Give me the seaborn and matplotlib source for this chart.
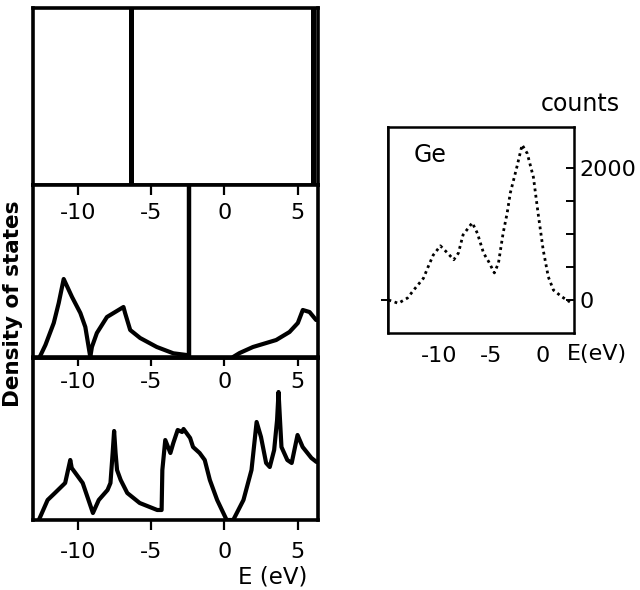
import numpy as np
import pandas as pd
import matplotlib
matplotlib.use("Agg")
import matplotlib.pyplot as plt
import seaborn as sns

# ---------------- data ----------------
# top panel: level positions (eV)
top_levels = [-6.4, 6.05]

# middle panel: valence part
mid_val_E = [-12.64, -12.25, -11.68, -11.34, -11.0, -10.43, -9.86, -9.52, -9.18,
             -9.07, -8.73, -8.04, -6.91, -6.8, -6.45, -5.77, -4.63, -3.5, -2.59]
mid_val_D = [0, 12, 34, 54, 78, 60, 44, 30, 0,
             10, 24, 40, 50, 44, 27, 19, 10, 3.7, 2]
# middle panel: conduction part
mid_con_E = [0.59, 1.04, 1.95, 3.54, 4.45, 5.02, 5.36, 5.82, 6.27]
mid_con_D = [0, 4, 10, 17, 25, 34, 47, 45, 37]
# middle panel: sharp level
mid_level = [-2.43]

# bottom panel
bot_E = [-12.7, -12.1, -11.6, -10.9, -10.55, -10.45, -9.7, -9.0, -8.6, -8.0, -7.8,
         -7.65, -7.55, -7.45, -7.35, -7.1, -6.65, -5.8, -4.6, -4.3, -4.25, -4.05,
         -3.7, -3.5, -3.2, -2.9, -2.8, -2.35, -2.15, -1.7, -1.35, -1.0, -0.5, 0.15,
         0.6, 1.3, 1.85, 2.2, 2.5, 2.85, 3.1, 3.4, 3.6, 3.7, 3.8, 3.9, 4.3, 4.6,
         5.0, 5.35, 5.95, 6.3]
bot_D = [0, 20, 27, 37, 60, 52, 37, 7, 20, 30, 37,
         67, 89, 67, 50, 40, 27, 17, 10, 10, 50, 80,
         67, 77, 90, 88, 91, 82, 73, 67, 60, 40, 20, 0,
         0, 20, 50, 98, 83, 57, 53, 70, 100, 128, 100, 73, 60, 57,
         85, 73, 62, 58]

# right panel: Ge photoemission counts
ge_E = [-14.95, -14.0, -13.1, -12.5, -11.55, -11.1, -10.6, -9.9, -9.2, -8.6, -8.15,
        -7.7, -6.8, -6.3, -5.7, -5.2, -4.65, -4.25, -3.8, -3.4, -3.1, -2.45, -1.95,
        -1.45, -0.85, -0.4, 0.1, 0.6, 1.1, 1.9, 2.7]
ge_counts = [0, -50, 30, 150, 330, 500, 680, 820, 710, 610, 710,
             985, 1170, 1010, 710, 580, 410, 560, 1010, 1320, 1620, 2020, 2350,
             2220, 1860, 1320, 760, 350, 150, 50, -30]

left_ticks = [-10, -5, 0, 5]
left_ticklabels = ["-10", "-5", "0", "5"]
ge_xticks = [-10, -5, 0]
ge_xticklabels = ["-10", "-5", "0"]
ge_yticks = [0, 500, 1000, 1500, 2000]
ge_yticklabels = ["0", "", "", "", "2000"]

# ---------------- style ----------------
sns.set_theme(style="white")
fam = ["DejaVu Sans"]
plt.rcParams["font.family"] = fam
plt.rcParams["axes.edgecolor"] = "black"
plt.rcParams["axes.labelcolor"] = "black"
plt.rcParams["text.color"] = "black"
plt.rcParams["xtick.color"] = "black"
plt.rcParams["ytick.color"] = "black"

fig = plt.figure(figsize=(6.4, 5.9), dpi=100)
W, H = 640.0, 590.0

def axes_px(x0, y0, x1, y1):
    return fig.add_axes([x0 / W, 1 - y1 / H, (x1 - x0) / W, (y1 - y0) / H])

xl = (-13.1, 6.4)
ax_top = axes_px(33, 8, 318, 185)
ax_mid = axes_px(33, 185, 318, 357)
ax_bot = axes_px(33, 358, 318, 520)
ax_ge = axes_px(388, 127, 574, 333)

lw_sp = 2.6
for a in (ax_top, ax_mid, ax_bot):
    a.set_xlim(*xl)
    for s in a.spines.values():
        s.set_linewidth(lw_sp)
        s.set_color("black")
    a.set_yticks([])
    a.set_facecolor("white")

fs = 16
# top panel
ax_top.set_ylim(0, 1)
ax_top.vlines(top_levels, 0, 1, color="black", lw=3.6)
ax_top.set_xticks([])

# middle panel
ax_mid.set_ylim(0, 172)
sns.lineplot(x=mid_val_E, y=mid_val_D, ax=ax_mid, color="black", lw=3.0, sort=False)
sns.lineplot(x=mid_con_E, y=mid_con_D, ax=ax_mid, color="black", lw=3.0, sort=False)
ax_mid.vlines(mid_level, 0, 172, color="black", lw=3.2)
ax_mid.set_xticks(left_ticks)
ax_mid.set_xticklabels(left_ticklabels)
ax_mid.tick_params(axis="x", top=True, labeltop=True, bottom=False, labelbottom=False,
                   direction="in", length=7, width=1.6, pad=-27, labelsize=fs)
ax_mid.set_xlabel("")
ax_mid.set_ylabel("")

# bottom panel
ax_bot.set_ylim(0, 162)
sns.lineplot(x=bot_E, y=bot_D, ax=ax_bot, color="black", lw=3.0, sort=False)
ax_bot.set_xticks(left_ticks)
ax_bot.set_xticklabels(left_ticklabels)
ax_bot.tick_params(axis="x", bottom=True, labelbottom=True, direction="out",
                   length=7, width=1.6, pad=9, labelsize=fs)
sec = ax_bot.secondary_xaxis("top")
sec.set_xticks(left_ticks)
sec.set_xticklabels(left_ticklabels)
sec.tick_params(axis="x", direction="in", length=6, width=1.6, pad=-24.5, labelsize=fs)
sec.spines["top"].set_linewidth(lw_sp)
ax_bot.set_ylabel("")
ax_bot.set_xlabel("E (eV)", fontsize=16.5)
ax_bot.xaxis.set_label_coords((273 - 33) / 285, (520 - 566) / 162)

fig.text(13 / W, 1 - 304 / H, "Density of states", rotation=90, ha="center",
         va="center", fontsize=15.5, fontweight="bold")

# right panel
sns.lineplot(x=ge_E, y=ge_counts, ax=ax_ge, color="black", lw=2.0,
             linestyle=(0, (1.0, 1.3)), sort=False)
ax_ge.set_xlim(-15, 3.1)
ax_ge.set_ylim(-500, 2620)
for s in ax_ge.spines.values():
    s.set_linewidth(1.8)
    s.set_color("black")
ax_ge.set_xticks(ge_xticks)
ax_ge.set_xticklabels(ge_xticklabels)
ax_ge.yaxis.tick_right()
ax_ge.set_yticks(ge_yticks)
ax_ge.set_yticklabels(ge_yticklabels)
ax_ge.tick_params(axis="x", direction="in", length=6, width=1.4, pad=9, labelsize=fs)
ax_ge.tick_params(axis="y", direction="in", length=6, width=1.4, pad=4,
                  labelsize=fs, left=False, right=True)
secy = ax_ge.secondary_yaxis("left")
secy.set_yticks([0])
secy.set_yticklabels([""])
secy.tick_params(axis="y", direction="out", length=5, width=1.4)
ax_ge.set_ylabel("")
ax_ge.set_xlabel("E(eV)", fontsize=16)
ax_ge.xaxis.set_label_coords((597 - 388) / 186, (333 - 344) / 206)
ax_ge.text(0.226, 0.864, "Ge", transform=ax_ge.transAxes, ha="center",
           va="center", fontsize=17)
fig.text(580 / W, 1 - 104 / H, "counts", ha="center", va="center", fontsize=17)

fig.savefig("out.png", dpi=100, facecolor="white")
